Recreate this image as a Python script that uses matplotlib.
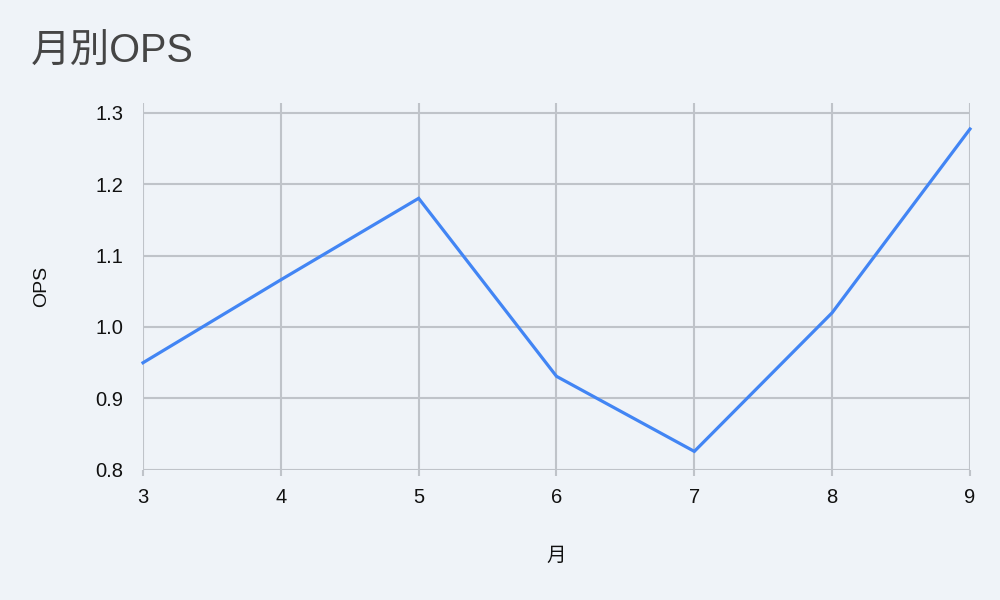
import matplotlib
matplotlib.use("Agg")
import matplotlib.pyplot as plt

# data
months = [3, 4, 5, 6, 7, 8, 9]
ops = [0.950, 1.066, 1.180, 0.931, 0.826, 1.020, 1.277]
y_ticks = [0.8, 0.9, 1.0, 1.1, 1.2, 1.3]

fams = ['Liberation Sans', 'Noto Sans CJK JP', 'DejaVu Sans']
plt.rcParams['font.family'] = fams

bg = '#eff3f8'
grid_c = '#bfc3c9'

fig = plt.figure(figsize=(10, 6), dpi=100, facecolor=bg)
ax = fig.add_axes([0.143, 0.2167, 0.827, 0.6116])
ax.set_facecolor(bg)

ax.plot(months, ops, color='#4285f4', lw=2.3, solid_joinstyle='miter', zorder=3, clip_on=False)

ax.set_xlim(3, 9)
ax.set_ylim(0.8, 1.3133)
ax.set_xticks(months)
ax.set_yticks(y_ticks)
ax.set_yticklabels([f'{v:.1f}' for v in y_ticks])
ax.grid(True, color=grid_c, lw=1.5)
ax.set_axisbelow(True)
for s in ax.spines.values():
    s.set_visible(False)
ax.tick_params(axis='x', length=4, width=1.5, color=grid_c, pad=9, labelsize=14.5, labelcolor='#111111')
ax.tick_params(axis='y', length=0, pad=14, labelsize=14.5, labelcolor='#111111')

ax.set_xlabel('月', fontsize=14, labelpad=29, color='#111111')
ax.set_ylabel('OPS', fontsize=14, labelpad=33, color='#111111')

fig.text(0.031, 0.895, '月別OPS', fontsize=28.5, color='#454545', ha='left', va='baseline')

fig.savefig('out.png', dpi=100, facecolor=bg)
